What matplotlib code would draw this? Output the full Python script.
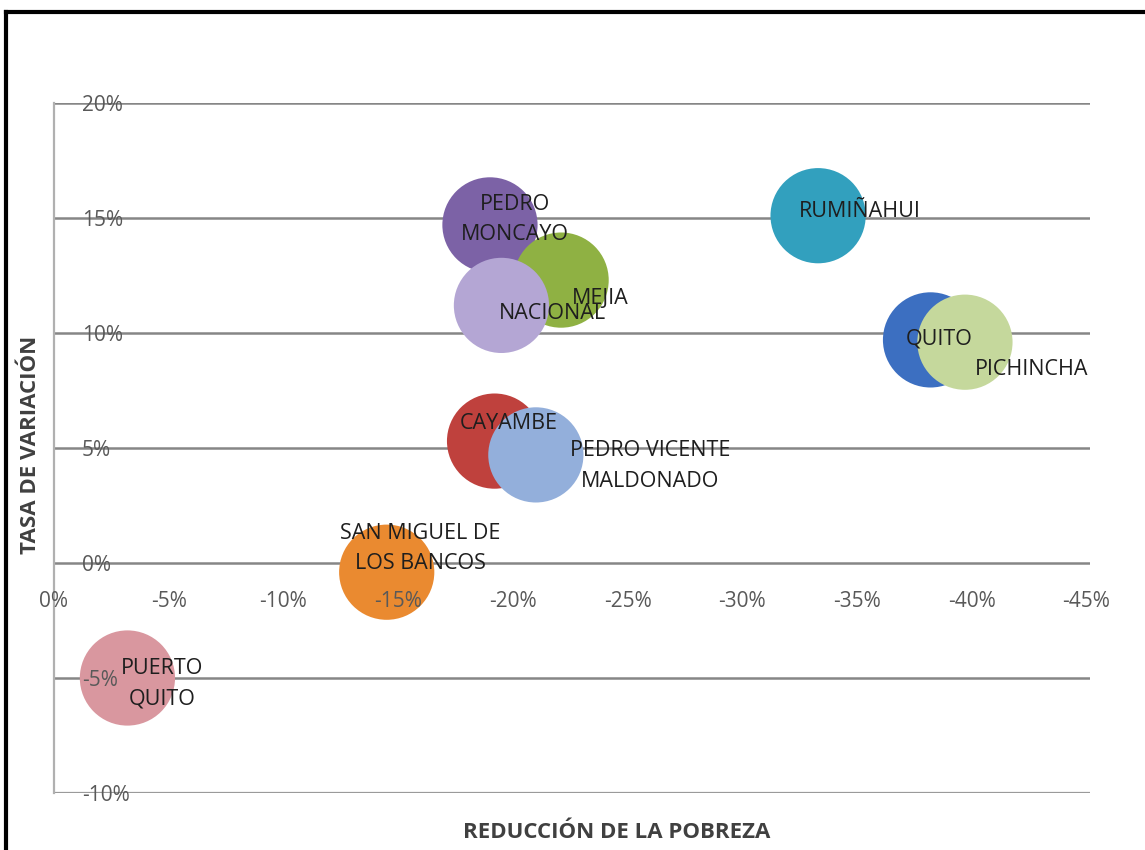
import matplotlib
matplotlib.use("Agg")
import matplotlib.pyplot as plt
from matplotlib.lines import Line2D
from matplotlib.ticker import FuncFormatter, MultipleLocator

plt.rcParams["font.family"] = ["Open Sans", "DejaVu Sans"]
plt.rcParams["axes.unicode_minus"] = False

# Data (values in %)
cantones = [
    "PEDRO\nMONCAYO", "MEJIA", "NACIONAL", "RUMIÑAHUI", "QUITO", "PICHINCHA",
    "CAYAMBE", "PEDRO VICENTE\nMALDONADO", "SAN MIGUEL DE\nLOS BANCOS", "PUERTO\nQUITO",
]
reduccion_pobreza = [-19.0, -22.1, -19.5, -33.3, -38.2, -39.7, -19.2, -21.0, -14.5, -3.2]
tasa_variacion = [14.7, 12.3, 11.2, 15.1, 9.7, 9.6, 5.3, 4.7, -0.4, -5.0]
tamano = [1.0, 1.0, 1.0, 1.0, 1.0, 1.0, 1.0, 1.0, 1.0, 1.0]

colores = ["#7c62a6", "#8fb143", "#b4a6d4", "#32a0be", "#3c6fc1",
           "#c5d89c", "#bf413d", "#93afdb", "#ea8a30", "#d9979f"]
# label offsets in points from bubble centre
offsets = [(18, 4), (28, -13), (37, -6), (30, 3), (6, 1),
           (48, -20), (10, 13), (82, -8), (24, 17), (25, -4)]

fig = plt.figure(figsize=(11.45, 8.5), dpi=100)
ax = fig.add_axes([54 / 1145, 1 - 793 / 850, (1090 - 54) / 1145, (793 - 103) / 850])

ax.set_xlim(0, -45.15)
ax.set_ylim(-10, 20)
ax.xaxis.set_major_locator(MultipleLocator(5))
ax.yaxis.set_major_locator(MultipleLocator(5))
pct = FuncFormatter(lambda v, _: f"{v:.0f}%")
ax.xaxis.set_major_formatter(pct)
ax.yaxis.set_major_formatter(pct)

# horizontal gridlines behind the bubbles, tick labels above them
for yv in ax.get_yticks():
    if -10 < yv <= 20:
        ax.axhline(yv, color="#868686", linewidth=1.8, zorder=1)
ax.axhline(-10, color="#9a9a9a", linewidth=1.6, zorder=1)

ax.scatter(reduccion_pobreza, tasa_variacion, s=[t * 4700 for t in tamano],
           c=colores, linewidths=0, zorder=3)

for name, x, y, off in zip(cantones, reduccion_pobreza, tasa_variacion, offsets):
    ax.annotate(name, (x, y), xytext=off, textcoords="offset points",
                ha="center", va="center", fontsize=15.5, color="#1e1e1e",
                linespacing=1.6, zorder=6)

for side in ["top", "right", "bottom"]:
    ax.spines[side].set_visible(False)
ax.spines["left"].set_color("#b0b0b0")
ax.spines["left"].set_linewidth(1.6)

ax.spines["bottom"].set_position(("data", 0))
ax.xaxis.set_ticks_position("bottom")
ax.tick_params(axis="x", length=0, pad=20, labelsize=15, labelcolor="#595959")
ax.tick_params(axis="y", length=0, pad=-20, labelsize=15, labelcolor="#595959")
for lbl in ax.get_yticklabels():
    lbl.set_horizontalalignment("left")
ax.xaxis.set_zorder(5)
ax.yaxis.set_zorder(5)

fig.text(617 / 1145, 1 - 833 / 850, "REDUCCIÓN DE LA POBREZA", ha="center", va="center",
         fontsize=16, fontweight="bold", color="#404040")
fig.text(31 / 1145, 1 - 445 / 850, "TASA DE VARIACIÓN", ha="center", va="center",
         rotation=90, fontsize=16, fontweight="bold", color="#404040")

# black frame (top and left edges visible in the reference)
fig.add_artist(Line2D([6 / 1145, 1.0], [1 - 12 / 850, 1 - 12 / 850], color="black", lw=3))
fig.add_artist(Line2D([6 / 1145, 6 / 1145], [0.0, 1 - 12 / 850], color="black", lw=3))

fig.savefig("out.png", dpi=100)
